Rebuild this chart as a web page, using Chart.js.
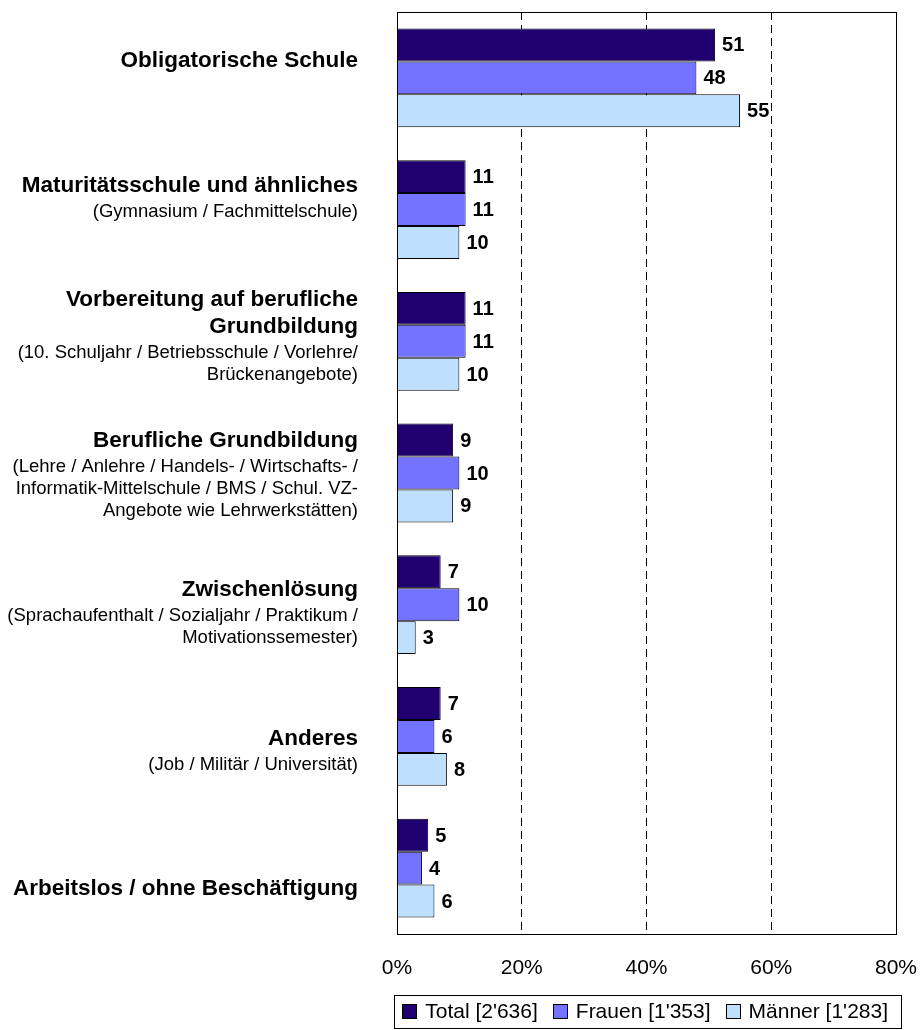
<!DOCTYPE html>
<html>
<head>
<meta charset="utf-8">
<script src="https://cdn.jsdelivr.net/npm/chart.js@4.4.0/dist/chart.umd.min.js"></script>
<style>
html, body { margin: 0; padding: 0; background: #fff; }
#wrap { width: 920px; height: 1030px; }
</style>
</head>
<body>
<div id="wrap"><canvas id="chart" width="920" height="1030"></canvas></div>
<script>
// category titles (bold) and the notes below them
const categories = [
    ['Obligatorische Schule'],
    ['Maturitätsschule und ähnliches'],
    ['Vorbereitung auf berufliche', 'Grundbildung'],
    ['Berufliche Grundbildung'],
    ['Zwischenlösung'],
    ['Anderes'],
    ['Arbeitslos / ohne Beschäftigung']
];
const categoryNotes = [
    [],
    ['(Gymnasium / Fachmittelschule)'],
    ['(10. Schuljahr / Betriebsschule / Vorlehre/', 'Brückenangebote)'],
    ['(Lehre / Anlehre / Handels- / Wirtschafts- /', 'Informatik-Mittelschule / BMS / Schul. VZ-', 'Angebote wie Lehrwerkstätten)'],
    ['(Sprachaufenthalt / Sozialjahr / Praktikum /', 'Motivationssemester)'],
    ['(Job / Militär / Universität)'],
    []
];
const seriesNames = ["Total [2'636]", "Frauen [1'353]", "Männer [1'283]"];
const totalValues = [51, 11, 11, 9, 7, 7, 5];
const frauenValues = [48, 11, 11, 10, 10, 6, 4];
const maennerValues = [55, 10, 10, 9, 3, 8, 6];
const xTicks = [0, 20, 40, 60, 80];

const FONT = "'Liberation Sans', Arial, sans-serif";
const colors = ['#200070', '#7373FF', '#BFDFFF'];

// frame around the plot area
const framePlugin = {
    id: 'frame',
    afterDatasetsDraw(chart) {
        const { ctx, chartArea: a } = chart;
        ctx.save();
        ctx.strokeStyle = '#000';
        ctx.lineWidth = 1;
        ctx.strokeRect(Math.round(a.left) + 0.5, Math.round(a.top) + 0.5,
            Math.round(a.right - a.left), Math.round(a.bottom - a.top));
        ctx.restore();
    }
};

// value labels next to the bars
const valueLabels = {
    id: 'valueLabels',
    afterDatasetsDraw(chart) {
        const ctx = chart.ctx;
        ctx.save();
        ctx.font = 'bold 20px ' + FONT;
        ctx.fillStyle = '#000';
        ctx.textAlign = 'left';
        ctx.textBaseline = 'middle';
        chart.data.datasets.forEach((ds, i) => {
            chart.getDatasetMeta(i).data.forEach((bar, j) => {
                ctx.fillText(ds.data[j], bar.x + 7, bar.y + 1);
            });
        });
        ctx.restore();
    }
};

// two-style category labels left of the plot
const categoryLabels = {
    id: 'categoryLabels',
    afterDraw(chart) {
        const ctx = chart.ctx;
        const y = chart.scales.y;
        const a = chart.chartArea;
        const mid = (a.top + a.bottom) / 2;
        const right = a.left - 39;
        ctx.save();
        ctx.fillStyle = '#000';
        ctx.textAlign = 'right';
        ctx.textBaseline = 'alphabetic';
        categories.forEach((title, i) => {
            const lines = title.map(t => ({ t, bold: true }))
                .concat(categoryNotes[i].map(t => ({ t, bold: false })));
            const base = [0];
            for (let k = 1; k < lines.length; k++) {
                const gap = lines[k].bold ? 27 : (lines[k - 1].bold ? 25 : 22);
                base.push(base[k - 1] + gap);
            }
            const pix = y.getPixelForValue(i);
            const target = mid + (pix - mid) * 1.048;
            const shift = target - (base[base.length - 1] - 16) / 2;
            lines.forEach((ln, k) => {
                ctx.font = (ln.bold ? 'bold 22.5px ' : '18.5px ') + FONT;
                ctx.fillText(ln.t, right, shift + base[k]);
            });
        });
        ctx.restore();
    }
};

// framed legend under the axis, right aligned
const boxLegend = {
    id: 'boxLegend',
    afterDraw(chart) {
        const ctx = chart.ctx;
        const a = chart.chartArea;
        ctx.save();
        ctx.font = '21px ' + FONT;
        const box = 15, gapText = 8, gapItem = 15;
        const widths = chart.data.datasets.map(ds => ctx.measureText(ds.label).width);
        let total = 0;
        widths.forEach((w, i) => { total += box + gapText + w + (i < widths.length - 1 ? gapItem : 0); });
        const frameRight = Math.round(a.right) + 5;
        const frameLeft = frameRight - total - 8 - 13;
        const top = 995, bottom = 1028;
        ctx.fillStyle = '#fff';
        ctx.fillRect(frameLeft, top, frameRight - frameLeft, bottom - top);
        ctx.strokeStyle = '#000';
        ctx.lineWidth = 1;
        ctx.strokeRect(Math.round(frameLeft) + 0.5, top + 0.5, Math.round(frameRight - frameLeft), bottom - top);
        let x = frameLeft + 8;
        const cy = (top + bottom) / 2;
        ctx.textAlign = 'left';
        ctx.textBaseline = 'middle';
        chart.data.datasets.forEach((ds, i) => {
            const bx = Math.round(x), by = Math.round(cy - box / 2);
            ctx.fillStyle = ds.backgroundColor;
            ctx.fillRect(bx, by, box, box);
            ctx.strokeStyle = '#000';
            ctx.strokeRect(bx + 0.5, by + 0.5, box - 1, box - 1);
            ctx.fillStyle = '#000';
            ctx.fillText(ds.label, x + box + gapText, cy + 1);
            x += box + gapText + widths[i] + gapItem;
        });
        ctx.restore();
    }
};

const ctx = document.getElementById('chart').getContext('2d');
const chart = new Chart(ctx, {
    type: 'bar',
    data: {
        labels: categories.map(c => c.join(' ')),
        datasets: [
            { label: seriesNames[0], data: totalValues, backgroundColor: colors[0] },
            { label: seriesNames[1], data: frauenValues, backgroundColor: colors[1] },
            { label: seriesNames[2], data: maennerValues, backgroundColor: colors[2] }
        ].map(ds => Object.assign(ds, {
            borderColor: '#000',
            borderWidth: 1,
            categoryPercentage: 0.75,
            barPercentage: 1.0
        }))
    },
    options: {
        responsive: false,
        animation: false,
        indexAxis: 'y',
        layout: { padding: { top: 12, right: 24, left: 0, bottom: 0 } },
        plugins: {
            legend: { display: false },
            tooltip: { enabled: false }
        },
        scales: {
            x: {
                min: xTicks[0],
                max: xTicks[xTicks.length - 1],
                ticks: {
                    stepSize: xTicks[1] - xTicks[0],
                    callback: v => v + '%',
                    font: { size: 21, family: FONT },
                    color: '#000',
                    padding: 22,
                    maxRotation: 0
                },
                grid: {
                    color: c => (c.tick && (c.tick.value === xTicks[0] || c.tick.value === xTicks[xTicks.length - 1])) ? 'rgba(0,0,0,0)' : '#000',
                    lineWidth: 1,
                    drawTicks: false
                },
                border: { display: false, dash: [8, 5] },
                afterFit: s => {
                    s.height = 96;
                    s.paddingLeft = 0;
                    s.paddingRight = 0;
                }
            },
            y: {
                ticks: { display: false },
                grid: { display: false },
                border: { display: false },
                afterFit: s => { s.width = 397; }
            }
        }
    },
    plugins: [framePlugin, valueLabels, categoryLabels, boxLegend]
});
</script>
</body>
</html>
